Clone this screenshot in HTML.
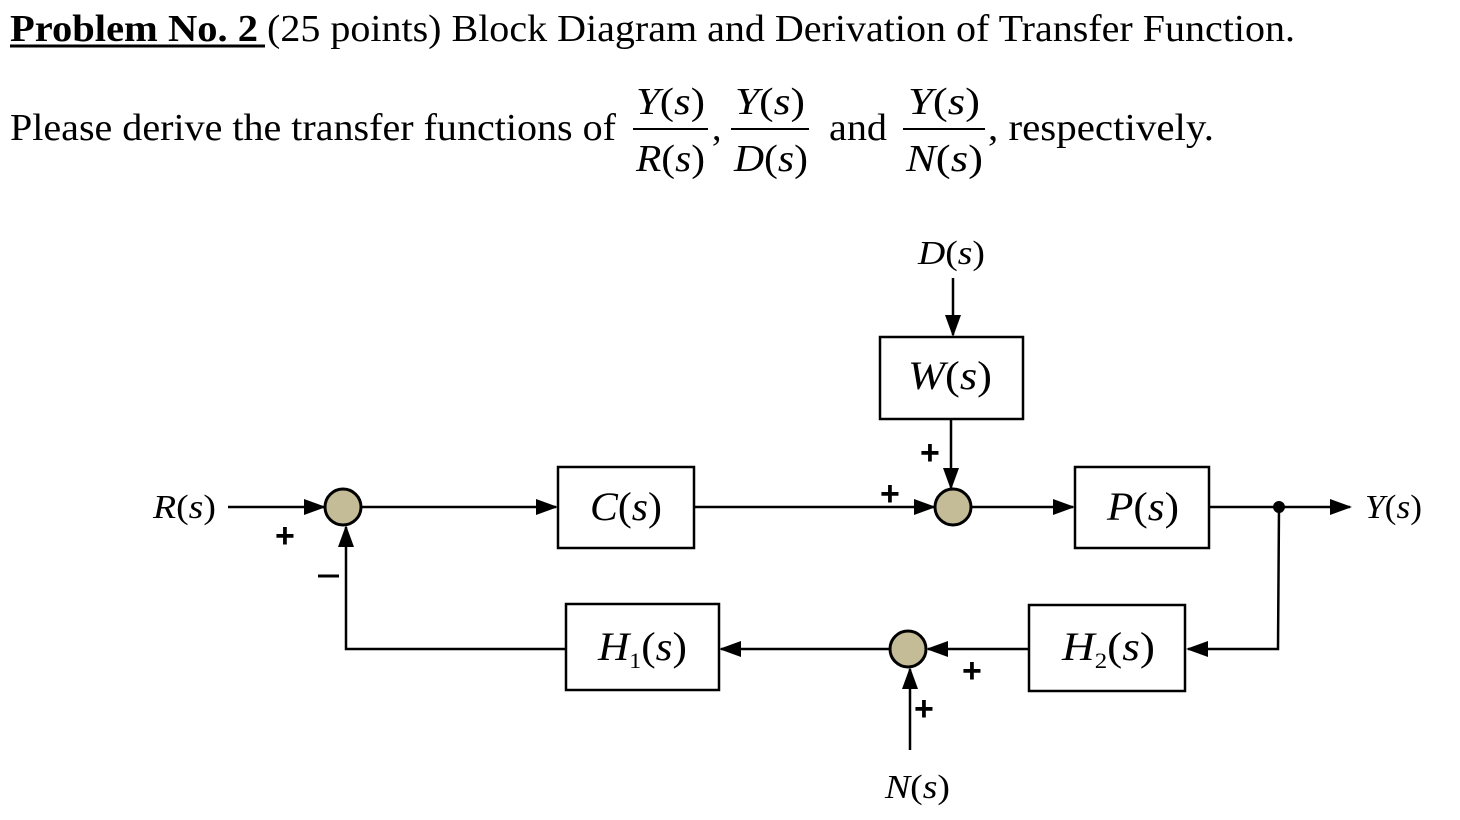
<!DOCTYPE html>
<html><head><meta charset="utf-8"><style>
html,body{margin:0;padding:0;background:#fff;}
svg{display:block;}
text{font-family:"Liberation Serif",serif;fill:#000;}
.i{font-style:italic;}
.p{font-family:"Liberation Sans",sans-serif;font-weight:bold;font-size:34px;}
</style></head><body>
<svg width="1460" height="820" viewBox="0 0 1460 820" xmlns="http://www.w3.org/2000/svg">
<defs>
<marker id="a" markerWidth="22" markerHeight="16" refX="20" refY="8" orient="auto" markerUnits="userSpaceOnUse">
<path d="M0,0 L22,8 L0,16 z" fill="#000"/></marker>
</defs>
<!-- header -->
<text x="10" y="41" font-size="38" font-weight="bold" textLength="248" lengthAdjust="spacingAndGlyphs">Problem No. 2</text>
<line x1="10" y1="46" x2="265" y2="46" stroke="#000" stroke-width="3"/>
<text x="267" y="41" font-size="38" textLength="1028" lengthAdjust="spacingAndGlyphs">(25 points) Block Diagram and Derivation of Transfer Function.</text>
<text x="10" y="140" font-size="38" textLength="606" lengthAdjust="spacingAndGlyphs">Please derive the transfer functions of</text>
<g font-size="38">
<text x="636" y="114" class="i" textLength="69" lengthAdjust="spacingAndGlyphs">Y<tspan font-style="normal">(</tspan>s<tspan font-style="normal">)</tspan></text>
<line x1="633" y1="129" x2="708" y2="129" stroke="#000" stroke-width="2"/>
<text x="636" y="171" class="i" textLength="69" lengthAdjust="spacingAndGlyphs">R<tspan font-style="normal">(</tspan>s<tspan font-style="normal">)</tspan></text>
<text x="712" y="140">,</text>
<text x="735" y="114" class="i" textLength="70" lengthAdjust="spacingAndGlyphs">Y<tspan font-style="normal">(</tspan>s<tspan font-style="normal">)</tspan></text>
<line x1="731" y1="129" x2="809" y2="129" stroke="#000" stroke-width="2"/>
<text x="734" y="171" class="i" textLength="74" lengthAdjust="spacingAndGlyphs">D<tspan font-style="normal">(</tspan>s<tspan font-style="normal">)</tspan></text>
<text x="829" y="140" textLength="58" lengthAdjust="spacingAndGlyphs">and</text>
<text x="908" y="114" class="i" textLength="72" lengthAdjust="spacingAndGlyphs">Y<tspan font-style="normal">(</tspan>s<tspan font-style="normal">)</tspan></text>
<line x1="903" y1="129" x2="985" y2="129" stroke="#000" stroke-width="2"/>
<text x="906" y="171" class="i" textLength="77" lengthAdjust="spacingAndGlyphs">N<tspan font-style="normal">(</tspan>s<tspan font-style="normal">)</tspan></text>
<text x="988" y="140" textLength="226" lengthAdjust="spacingAndGlyphs">, respectively.</text>
</g>
<!-- diagram lines -->
<g stroke="#000" stroke-width="2.5" fill="none">
<line x1="228" y1="507" x2="324" y2="507" marker-end="url(#a)"/>
<line x1="362" y1="507" x2="556" y2="507" marker-end="url(#a)"/>
<line x1="695" y1="507" x2="934" y2="507" marker-end="url(#a)"/>
<line x1="972" y1="507" x2="1073" y2="507" marker-end="url(#a)"/>
<line x1="1210" y1="507" x2="1350" y2="507" marker-end="url(#a)"/>
<line x1="953" y1="278" x2="953" y2="335" marker-end="url(#a)"/>
<line x1="951" y1="420" x2="951" y2="488" marker-end="url(#a)"/>
<polyline points="1279,507 1278,649 1188,649" marker-end="url(#a)"/>
<line x1="1029" y1="649" x2="928" y2="649" marker-end="url(#a)"/>
<line x1="890" y1="649" x2="721" y2="649" marker-end="url(#a)"/>
<line x1="910" y1="750" x2="910" y2="669" marker-end="url(#a)"/>
<polyline points="565,649 346,649 346,527" marker-end="url(#a)"/>
</g>
<circle cx="1279" cy="507" r="6" fill="#000"/>
<!-- blocks -->
<g stroke="#000" stroke-width="2.5" fill="#fff">
<rect x="558" y="467" width="136" height="81"/>
<rect x="880" y="337" width="143" height="82"/>
<rect x="1075" y="467" width="134" height="81"/>
<rect x="566" y="604" width="153" height="86"/>
<rect x="1029" y="605" width="156" height="86"/>
</g>
<g fill="#c4bc97" stroke="#000" stroke-width="3">
<circle cx="343" cy="507" r="18"/>
<circle cx="953" cy="507" r="18"/>
<circle cx="908" cy="649" r="18"/>
</g>
<!-- labels -->
<g font-size="40">
<text x="590" y="520" class="i" textLength="72" lengthAdjust="spacingAndGlyphs">C<tspan font-style="normal">(</tspan>s<tspan font-style="normal">)</tspan></text>
<text x="908" y="389" class="i" textLength="84" lengthAdjust="spacingAndGlyphs">W<tspan font-style="normal">(</tspan>s<tspan font-style="normal">)</tspan></text>
<text x="1107" y="520" class="i" textLength="72" lengthAdjust="spacingAndGlyphs">P<tspan font-style="normal">(</tspan>s<tspan font-style="normal">)</tspan></text>
<text x="598" y="660" class="i" textLength="89" lengthAdjust="spacingAndGlyphs">H<tspan font-style="normal" font-size="22" dy="8">1</tspan><tspan font-style="normal" dy="-8">(</tspan>s<tspan font-style="normal">)</tspan></text>
<text x="1062" y="660" class="i" textLength="93" lengthAdjust="spacingAndGlyphs">H<tspan font-style="normal" font-size="22" dy="8">2</tspan><tspan font-style="normal" dy="-8">(</tspan>s<tspan font-style="normal">)</tspan></text>
</g>
<g font-size="34">
<text x="153" y="518" class="i" textLength="63" lengthAdjust="spacingAndGlyphs">R<tspan font-style="normal">(</tspan>s<tspan font-style="normal">)</tspan></text>
<text x="918" y="264" class="i" textLength="67" lengthAdjust="spacingAndGlyphs">D<tspan font-style="normal">(</tspan>s<tspan font-style="normal">)</tspan></text>
<text x="1365" y="518" class="i" textLength="57" lengthAdjust="spacingAndGlyphs">Y<tspan font-style="normal">(</tspan>s<tspan font-style="normal">)</tspan></text>
<text x="885" y="798" class="i" textLength="65" lengthAdjust="spacingAndGlyphs">N<tspan font-style="normal">(</tspan>s<tspan font-style="normal">)</tspan></text>
</g>
<text x="275" y="547" class="p">+</text>
<text x="920" y="464" class="p">+</text>
<text x="880" y="505" class="p">+</text>
<text x="962" y="682" class="p">+</text>
<text x="914" y="720" class="p">+</text>
<line x1="318" y1="576" x2="339" y2="576" stroke="#000" stroke-width="3"/>
</svg>
</body></html>
